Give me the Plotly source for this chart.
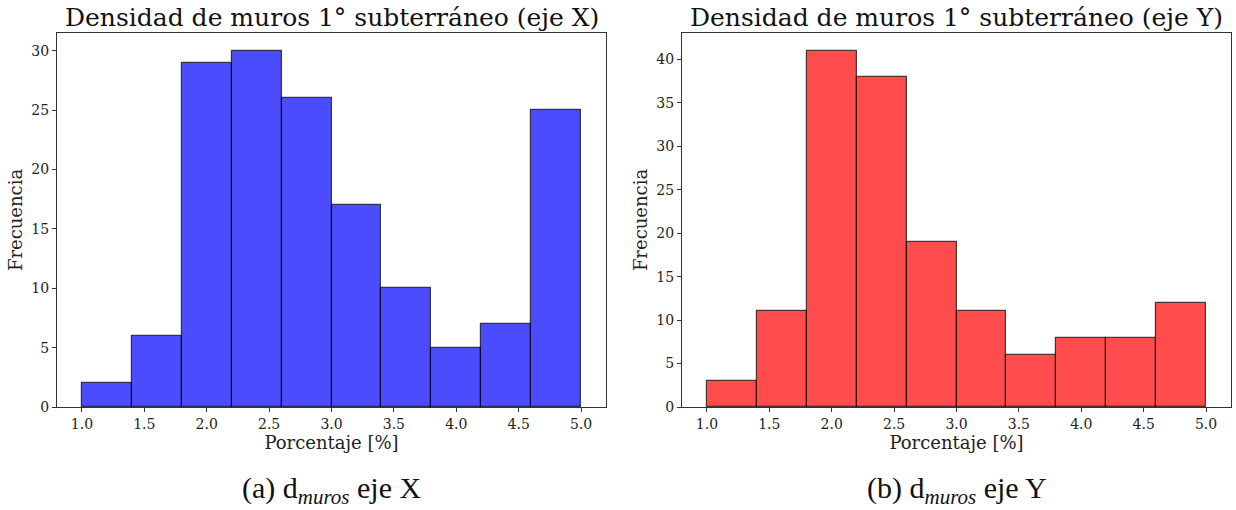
import plotly.graph_objects as go

# Data
bin_edges = [1.0, 1.4, 1.8, 2.2, 2.6, 3.0, 3.4, 3.8, 4.2, 4.6, 5.0]
counts_x = [2, 6, 29, 30, 26, 17, 10, 5, 7, 25]
counts_y = [3, 11, 41, 38, 19, 11, 6, 8, 8, 12]
titles = ["Densidad de muros 1° subterráneo (eje X)", "Densidad de muros 1° subterráneo (eje Y)"]
captions = ["(a) d<sub><i>muros</i></sub> eje X", "(b) d<sub><i>muros</i></sub> eje Y"]
x_label = "Porcentaje [%]"
y_label = "Frecuencia"

centers = [(a + b) / 2 for a, b in zip(bin_edges[:-1], bin_edges[1:])]
widths = [b - a for a, b in zip(bin_edges[:-1], bin_edges[1:])]

W, H = 1236, 510
serif = "DejaVu Serif"

fig = go.Figure()
fig.add_trace(go.Bar(x=centers, y=counts_x, width=widths,
                     marker=dict(color="rgba(0,0,255,0.7)", line=dict(color="rgba(0,0,0,0.7)", width=1.2)),
                     xaxis="x", yaxis="y", showlegend=False))
fig.add_trace(go.Bar(x=centers, y=counts_y, width=widths,
                     marker=dict(color="rgba(255,0,0,0.7)", line=dict(color="rgba(0,0,0,0.7)", width=1.2)),
                     xaxis="x2", yaxis="y2", showlegend=False))

def xa(domain, anchor):
    return dict(domain=domain, anchor=anchor, range=[0.8, 5.2], tick0=1.0, dtick=0.5, tickformat=".1f",
                showgrid=False, zeroline=False, showline=True, mirror=True, linecolor="#333", linewidth=1,
                ticks="outside", ticklen=4, tickcolor="#333", automargin=False,
                tickfont=dict(family=serif, size=14, color="#222"),
                title=dict(text=x_label, font=dict(family=serif, size=18, color="#222"), standoff=2))

def ya(domain, anchor, top):
    return dict(domain=domain, anchor=anchor, range=[0, top], dtick=5,
                showgrid=False, zeroline=False, showline=True, mirror=True, linecolor="#333", linewidth=1,
                ticks="outside", ticklen=4, tickcolor="#333", automargin=False,
                tickfont=dict(family=serif, size=14, color="#222"),
                title=dict(text=y_label, font=dict(family=serif, size=18, color="#222"), standoff=4))

ydom = [(510 - 407) / H, (510 - 33) / H]
xd1 = [57 / W, 606 / W]
xd2 = [682 / W, 1231 / W]

fig.update_layout(
    width=W, height=H, margin=dict(l=0, r=0, t=0, b=0),
    plot_bgcolor="white", paper_bgcolor="white", bargap=0,
    xaxis=xa(xd1, "y"), yaxis=ya(ydom, "x", max(counts_x) * 1.05),
    xaxis2=xa(xd2, "y2"), yaxis2=ya(ydom, "x2", max(counts_y) * 1.05),
)

for i, (xd, t, c) in enumerate(zip([xd1, xd2], titles, captions)):
    cx = (xd[0] + xd[1]) / 2
    fig.add_annotation(text=t, x=cx, y=(510 - 34) / H, xref="paper", yref="paper",
                       xanchor="center", yanchor="bottom", showarrow=False,
                       font=dict(family=serif, size=25, color="#111"))
    fig.add_annotation(text=c, x=cx, y=(510 - 490) / H, xref="paper", yref="paper",
                       xanchor="center", yanchor="middle", showarrow=False,
                       font=dict(family="Liberation Serif", size=30, color="#111"))

fig.write_html("out.html", config={"displayModeBar": False},
               post_script="document.body.style.margin='0';document.body.style.overflow='hidden';")
